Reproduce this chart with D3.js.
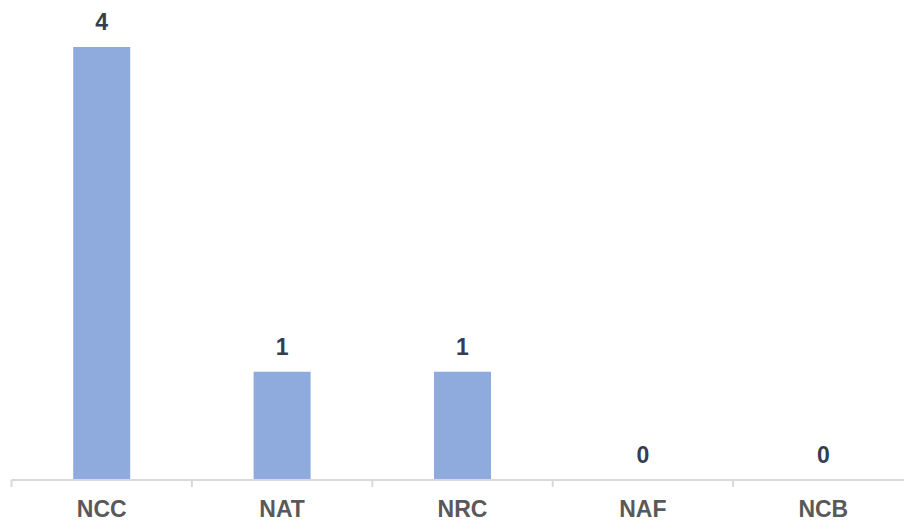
<!DOCTYPE html>
<html>
<head>
<meta charset="utf-8">
<script src="https://cdn.jsdelivr.net/npm/d3@7"></script>
<style>
  html, body { margin: 0; padding: 0; background: #fff; }
  svg { display: block; }
</style>
</head>
<body>
<svg id="chart" width="904" height="522"></svg>
<script>
// Counts per category
const categories = ["NCC", "NAT", "NRC", "NAF", "NCB"];
const values = [4, 1, 1, 0, 0];

const svg = d3.select("#chart");
const baseline = 480;
const left = 11.5;
const band = 180.4;

const x = d3.scaleBand()
  .domain(categories)
  .range([left, left + band * categories.length])
  .paddingInner(0.684)
  .paddingOuter(0.342);

const y = d3.scaleLinear()
  .domain([0, 4])
  .range([baseline, 47]);

// Bars
svg.append("g")
  .selectAll("rect")
  .data(categories)
  .join("rect")
  .attr("x", d => x(d))
  .attr("width", x.bandwidth())
  .attr("y", (d, i) => y(values[i]))
  .attr("height", (d, i) => baseline - y(values[i]))
  .attr("fill", "#8faadc");

// Category axis with separators between categories
const axis = svg.append("g");
axis.append("line")
  .attr("x1", left).attr("x2", left + band * categories.length)
  .attr("y1", baseline).attr("y2", baseline)
  .attr("stroke", "#d9d9d9").attr("stroke-width", 2);

const sep = d3.range(categories.length + 1).map(i => left + band * i);
axis.selectAll("line.sep")
  .data(sep)
  .join("line")
  .attr("class", "sep")
  .attr("x1", d => d).attr("x2", d => d)
  .attr("y1", baseline).attr("y2", baseline + 7)
  .attr("stroke", "#d9d9d9").attr("stroke-width", 2);

axis.selectAll("text")
  .data(categories)
  .join("text")
  .attr("x", d => x(d) + x.bandwidth() / 2)
  .attr("y", 517)
  .attr("text-anchor", "middle")
  .attr("font-family", "Liberation Sans, Arial, sans-serif")
  .attr("font-weight", "bold")
  .attr("font-size", 23)
  .attr("fill", "#595959")
  .text(d => d);

// Value labels
svg.append("g")
  .selectAll("text")
  .data(categories)
  .join("text")
  .attr("x", d => x(d) + x.bandwidth() / 2)
  .attr("y", (d, i) => y(values[i]) - 17)
  .attr("text-anchor", "middle")
  .attr("font-family", "Liberation Sans, Arial, sans-serif")
  .attr("font-weight", "bold")
  .attr("font-size", 23)
  .attr("fill", "#333f50")
  .text((d, i) => values[i]);
</script>
</body>
</html>
